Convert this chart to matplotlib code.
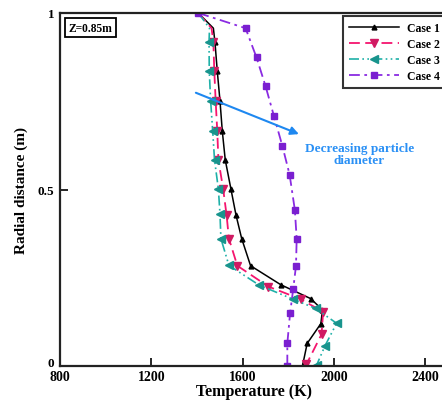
import matplotlib
matplotlib.use("Agg")
import matplotlib.pyplot as plt

plt.rcParams['font.family'] = ['Liberation Serif', 'DejaVu Serif']
plt.rcParams['font.weight'] = 'bold'

# Data (Temperature K, radial distance m)
case1_T = [1406, 1472, 1479, 1489, 1501, 1511, 1524, 1549, 1571, 1596, 1635, 1768, 1898, 1950, 1943, 1883, 1863]
case1_r = [1.0, 0.957, 0.917, 0.836, 0.751, 0.666, 0.584, 0.501, 0.428, 0.361, 0.284, 0.230, 0.191, 0.159, 0.120, 0.064, 0.002]

case2_T = [1406, 1464, 1472, 1476, 1482, 1489, 1494, 1515, 1530, 1540, 1577, 1713, 1856, 1953, 1946, 1880]
case2_r = [1.0, 0.957, 0.917, 0.836, 0.751, 0.666, 0.584, 0.501, 0.427, 0.361, 0.284, 0.225, 0.189, 0.153, 0.090, 0.005]

case3_T = [1406, 1455, 1453, 1454, 1460, 1469, 1477, 1494, 1501, 1505, 1540, 1673, 1822, 1920, 2012, 1961, 1924]
case3_r = [1.0, 0.957, 0.917, 0.836, 0.751, 0.666, 0.584, 0.501, 0.430, 0.361, 0.285, 0.229, 0.189, 0.163, 0.121, 0.057, 0.002]

case4_T = [1406, 1613, 1661, 1701, 1737, 1774, 1806, 1829, 1837, 1834, 1822, 1808, 1796, 1796]
case4_r = [1.0, 0.957, 0.874, 0.792, 0.709, 0.624, 0.542, 0.442, 0.361, 0.284, 0.219, 0.149, 0.064, 0.0]

labels = ["Case 1", "Case 2", "Case 3", "Case 4"]
xticks = [800, 1200, 1600, 2000, 2400]
yticks = [0, 0.5, 1]
yticklabels = ["0", "0.5", "1"]

fig = plt.figure(figsize=(4.42, 4.06), dpi=100)
ax = fig.add_axes([60/442, 39/406, 388/442, 353/406])

ax.plot(case1_T, case1_r, color='black', lw=1.1, marker='^', ms=3.5,
        markevery=[i for i in range(len(case1_T)) if i != 1], label=labels[0])
ax.plot(case2_T, case2_r, color='#f5156e', lw=1.3, ls=(0, (6, 3)), marker='v', ms=5.5,
        mfc='#d01a62', mec='#d01a62', markevery=[i for i in range(1, len(case2_T)) if i != 1], label=labels[1])
ax.plot(case3_T, case3_r, color='#1fb0a8', lw=1.2, ls=(0, (6, 2, 1, 2, 1, 2)), marker='<', ms=5.5,
        mfc='#18948d', mec='#18948d', markevery=[i for i in range(1, len(case3_T)) if i != 1], label=labels[2])
ax.plot(case4_T, case4_r, color='#8a2be2', lw=1.3, ls=(0, (6, 2.5, 1.5, 2.5)), marker='s', ms=4.2,
        mfc='#7a1fd0', mec='#7a1fd0', label=labels[3])

ax.set_xlim(800, 2500)
ax.set_ylim(0, 1)
ax.set_xticks(xticks)
ax.set_xticklabels([str(t) for t in xticks], fontsize=10, fontweight='bold')
ax.set_yticks(yticks)
ax.set_yticklabels(yticklabels, fontsize=9.5, fontweight='bold')
ax.tick_params(axis='both', direction='in', length=6, width=1.2)
ax.tick_params(axis='x', pad=3)
ax.tick_params(axis='y', pad=4)
ax.get_yticklabels()[0].set_va('baseline')
for s in ax.spines.values():
    s.set_linewidth(1.6)
    s.set_color('#222222')

ax.set_xlabel("Temperature (K)", fontsize=11.5, fontweight='bold', labelpad=0)
ax.set_ylabel("Radial distance (m)", fontsize=11, fontweight='bold', labelpad=7)

leg = ax.legend(loc='upper left', bbox_to_anchor=(0.729, 0.992), borderaxespad=0,
                prop={'family': 'Liberation Serif', 'weight': 'bold', 'size': 8.5},
                frameon=True, fancybox=False, handlelength=4.2, handletextpad=0.7,
                labelspacing=0.32, borderpad=0.55)
leg.get_frame().set_edgecolor('black')
leg.get_frame().set_linewidth(1.5)

ax.text(0.022, 0.975, "Z=0.85m", transform=ax.transAxes, ha='left', va='top',
        fontsize=8.3, fontweight='bold',
        bbox=dict(boxstyle='square,pad=0.3', fc='white', ec='black', lw=1.3))

ax.annotate("", xy=(1858, 0.654), xytext=(1384, 0.777),
            arrowprops=dict(arrowstyle='-|>', color='#1e88f0', lw=1.5, mutation_scale=12))
ax.text(2112, 0.60, "Decreasing particle\ndiameter", color='#2a90f5', ha='center', va='center',
        fontsize=9.5, fontweight='bold', linespacing=0.95)

fig.savefig("out.png", dpi=100)
